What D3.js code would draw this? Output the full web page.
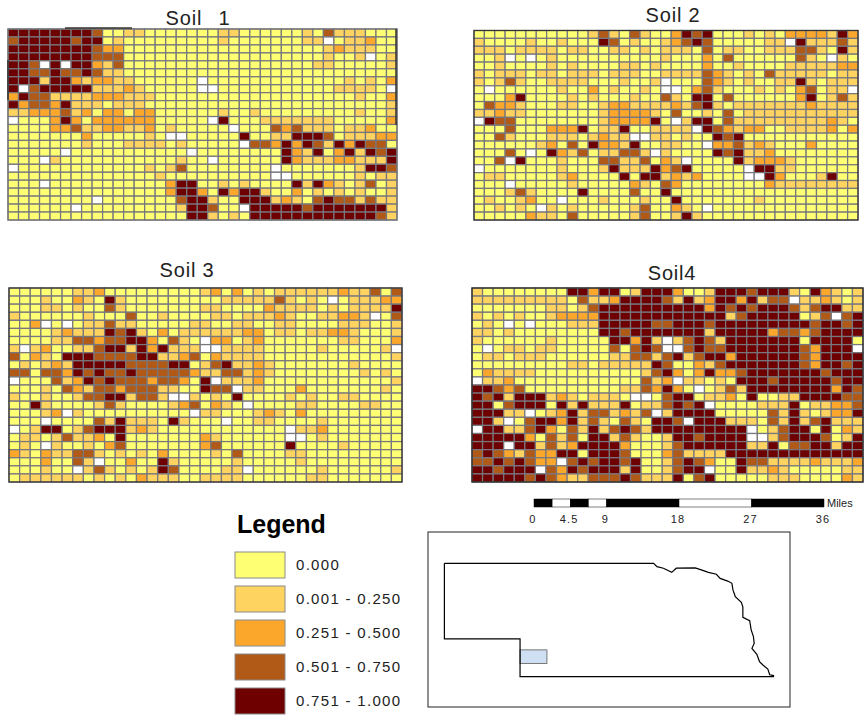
<!DOCTYPE html>
<html>
<head>
<meta charset="utf-8">
<title>Soil maps</title>
<script src="https://cdnjs.cloudflare.com/ajax/libs/d3/7.8.5/d3.min.js"></script>
<style>
  body { margin: 0; background: #fff; }
  text { font-family: "Liberation Sans", Arial, sans-serif; fill: #222; }
</style>
</head>
<body>
<svg id="chart"></svg>
<script>
// Class of each grid cell, one string per row: 0-4 = legend class, x = no data
const soil1 = [
  '4444444430 0110000000 1100000010 3111000',
  '3444443440 1000000000 1000000011 x011200',
  '4444444432 2000000000 0000000000 1211100',
  '4444444433 3000000000 0000000000 1001x01',
  '443x4x4421 3000000000 0000000001 1000001',
  '4433433431 1000000000 0000000000 0000000',
  '4441442122 11000000x0 0000000000 0010102',
  '4x34444411 12100000xx 0000000000 011110x',
  '2433111122 2111000000 0000000000 0001002',
  '4233241110 1110000000 0000000000 0000001',
  '1122231202 2022000000 1001000000 0001001',
  'x000242022 222200000x 4000111111 1000002',
  '0000223112 2112010000 0x00032311 1011200',
  '0000000200 00010xx000 0040011444 3011122',
  '0000000100 0111101000 00x3324243 1424330',
  '00000x0000 0000000x00 0000004214 0241434',
  '000x100000 000000100x 0000004211 1221114',
  'x000000000 0001013000 00000x0000 0001443',
  '0000000000 0000100000 00000xx000 0001011',
  '000x000000 0000024400 1010000414 2101301',
  '0000000000 0000024420 4244100201 0101001',
  '00000000x0 0000003441 0044412103 4331311',
  '000000x000 0000001443 00x4444434 4444441',
  '0000000000 0000000441 0104444444 4444431'
];

const soil2 = [
  '0000000000 0131031002 4340001010 2222142',
  '1000010010 0043010012 3430000011 x411131',
  '1110111101 1001101011 1030110011 1331041',
  '001x0x0100 0000000010 0020300000 0310x10',
  '0010000101 0000110100 0020010000 1111122',
  '1011101101 1101110011 1132101031 1111011',
  '1013100111 10001001x0 0032101001 1410111',
  '0x00000010 02010010xx 0231000101 023011x',
  '0002400001 0100010031 0440300000 0240131',
  '0322100011 0012211112 1341011111 1121111',
  '1121100000 0012222103 0010301111 1111111',
  'x433000000 001222240x 1440311111 1111210',
  '0003000222 4011400111 1x43212200 1111202',
  '0031000111 01211xx110 1004340000 0000000',
  '0000001203 0422140011 00x2231210 0020000',
  '00030x0421 3011331x10 0004341120 0000000',
  '003x400010 0033113021 x000041222 1000000',
  'x000000010 0014111423 400000x441 1000000',
  '0110000012 0000404412 120000xx42 0001400',
  '000x000001 0000021032 0000000021 1111111',
  '0001310000 4000030040 0000000000 0000000',
  '01001200x0 0010001004 0000000100 0000000',
  '001010x101 0000013002 10x0000000 0000000',
  '0000021103 0000013001 4100000000 0000000'
];

const soil3 = [
  '0000001120 0000000012 0201011111 1211303',
  '0001002104 1000000000 1111131010 x011122',
  '0001101003 1000000011 0000211110 1011114',
  '1000000100 0300100001 1011121001 1221x03',
  '002x0x0113 1100000110 0110011000 0111001',
  '0000121114 3410201111 1122011011 2210001',
  '0000113323 34420310x2 2012000000 0110002',
  '1x12001134 41424111xx 1111000001 000001x',
  '3021044433 3344112302 1111000000 0000001',
  '0101214444 4333344013 4112100000 0010000',
  '3303324343 3433333211 3312100000 0001010',
  'x000312434 333233204x 1112000000 0000001',
  '0001032133 2333110043 3x11000200 0000010',
  '1001001334 41331xx101 0400001010 0110000',
  '0041000013 1000012302 10x0000110 0001100',
  '00012x1000 0000000x11 0001210200 0000000',
  '000x000031 4111041000 x001100001 0000000',
  'x014401344 4121000000 000000x112 0000000',
  '0110131120 4000000021 000000xx01 0000000',
  '010x100102 3000000023 0000004000 0100000',
  '2102113310 1010200001 0300001100 0000000',
  '00020031x0 0200410000 0100000100 0000000',
  '000100x131 0101430000 11x0000001 0000001',
  '0111111010 1021110011 1100000011 0000000'
];

const soil4 = [
  '1000000004 4244014442 0014443444 1042101',
  '1111111110 3112444431 4124424133 x112101',
  '0000000110 1344444444 4424343444 3134411',
  '1010100122 2244444444 4444134444 4013x34',
  '010x0x0001 1144444334 4434444444 4434434',
  '1101000000 0044344444 4414444423 3234444',
  '1000000100 00044241x1 3431444444 4044440',
  '0x01101100 00030343xx 3433444444 432444x',
  '0110111000 0001133134 1344244444 4324444',
  '0000000001 1011111430 0213444444 4324434',
  '0211110000 0000001342 0242234444 4443444',
  'x112000000 000000312x 1101044434 4444344',
  '4432300000 0000113242 0x01314444 4444243',
  '4341444121 01110xx034 4011204001 1444433',
  '4403444041 4111401134 34x0000111 4011223',
  '44411x0124 1331213x14 4440000031 4101224',
  '441x034424 1310310443 x444111031 4134111',
  'x441134203 1413431444 444444x013 4404021',
  '4444420313 0441310014 434444xx13 4443014',
  '444x441312 4444200013 4444441140 3344144',
  '3432132244 0444300023 1111444444 4444444',
  '33434322x3 4344340013 4320043311 1121112',
  '443444x324 3444140013 44x0041121 0000011',
  '4444434321 1333431114 0340000011 1000021'
];

const soilNames = ['Soil 1', 'Soil 2', 'Soil 3', 'Soil4'];
const soilRows = [soil1, soil2, soil3, soil4];

const classLabels = ['0.000', '0.001 - 0.250', '0.251 - 0.500', '0.501 - 0.750', '0.751 - 1.000'];
const classColors = ['#ffff73', '#fed35f', '#fba72c', '#b15a17', '#6e0000'];

// Scale bar stops in miles
const barStops = [0, 2.25, 4.5, 6.75, 9, 18, 27, 36];
const barLabels = [0, 4.5, 9, 18, 27, 36];

// State outline as [lon, lat]
const stateOutline = [
  [-104.05, 43], [-98.52, 43], [-98.43, 42.91], [-98.26, 42.87], [-98.04, 42.76],
  [-97.92, 42.87], [-97.42, 42.88], [-97.24, 42.82], [-97.07, 42.76], [-96.86, 42.71],
  [-96.76, 42.6], [-96.56, 42.53], [-96.45, 42.47], [-96.42, 42.29], [-96.36, 42.12],
  [-96.2, 41.97], [-96.16, 41.85], [-96.16, 41.57], [-95.98, 41.48], [-95.94, 41.24],
  [-95.88, 41.06], [-95.86, 40.88], [-95.92, 40.75], [-95.79, 40.59], [-95.72, 40.4],
  [-95.63, 40.31], [-95.5, 40.2], [-95.45, 40.05], [-95.35, 40.03], [-95.35, 40],
  [-102.05, 40], [-102.05, 41], [-104.05, 41], [-104.05, 43]
];
const studyArea = { lon: [-102.05, -101.34], lat: [40.71, 40.35] };

const width = 865;
const height = 719;

const svg = d3.select('#chart')
  .attr('width', width)
  .attr('height', height)
  .style('display', 'block');

// Where each panel sits on the page
const panels = [
  { left: 8, right: 397, top: 29, bottom: 220, titleX: 198, titleY: 25, wordGap: 10, frame: '#777' },
  { left: 474, right: 858, top: 30.5, bottom: 220, titleX: 673, titleY: 22, wordGap: 0, frame: '#333' },
  { left: 9, right: 402, top: 288, bottom: 482, titleX: 187, titleY: 277, wordGap: 0, frame: '#333' },
  { left: 472, right: 863, top: 288, bottom: 482, titleX: 672, titleY: 280, wordGap: 0, frame: '#222' }
];

// Draw the four grids
soilRows.forEach((rows, i) => {
  const p = panels[i];
  const cells = [];
  rows.forEach((row, r) => {
    row.replace(/ /g, '').split('').forEach((v, c) => cells.push({ r, c, v }));
  });

  const xScale = d3.scaleBand().domain(d3.range(37)).range([p.left, p.right]);
  const yScale = d3.scaleBand().domain(d3.range(rows.length)).range([p.top, p.bottom]);

  const g = svg.append('g').attr('class', 'panel');

  g.selectAll('rect')
    .data(cells)
    .enter()
    .append('rect')
    .attr('x', d => xScale(d.c))
    .attr('y', d => yScale(d.r))
    .attr('width', xScale.bandwidth())
    .attr('height', yScale.bandwidth())
    .attr('fill', d => d.v === 'x' ? '#fff' : classColors[+d.v])
    .attr('stroke', '#77777e')
    .attr('stroke-width', 1.25);

  g.append('rect')
    .attr('x', p.left)
    .attr('y', p.top)
    .attr('width', p.right - p.left)
    .attr('height', p.bottom - p.top)
    .attr('fill', 'none')
    .attr('stroke', p.frame)
    .attr('stroke-width', 1.2);

  svg.append('text')
    .attr('x', p.titleX)
    .attr('y', p.titleY)
    .attr('text-anchor', 'middle')
    .style('font-size', '20px')
    .style('letter-spacing', '0.8px')
    .style('word-spacing', p.wordGap + 'px')
    .text(soilNames[i]);
});

// Heavier bits of the Soil 1 border
const soil1Heavy = [[65, 28, 132, 28], [8, 60, 8, 100], [396, 29, 396, 125]];
svg.selectAll('.heavy')
  .data(soil1Heavy)
  .enter()
  .append('line')
  .attr('class', 'heavy')
  .attr('x1', d => d[0])
  .attr('y1', d => d[1])
  .attr('x2', d => d[2])
  .attr('y2', d => d[3])
  .attr('stroke', '#333')
  .attr('stroke-width', 1.5);

// Legend
svg.append('text')
  .attr('x', 237)
  .attr('y', 533)
  .style('font-size', '25px')
  .style('font-weight', 'bold')
  .style('fill', '#000')
  .text('Legend');

const legendY = d3.scalePoint().domain(d3.range(5)).range([565, 701]);

svg.selectAll('.swatch')
  .data(classColors)
  .enter()
  .append('rect')
  .attr('class', 'swatch')
  .attr('x', 235)
  .attr('y', (d, i) => legendY(i) - 13)
  .attr('width', 50)
  .attr('height', 26)
  .attr('fill', d => d)
  .attr('stroke', '#8a8a8a');

svg.selectAll('.legend-label')
  .data(classLabels)
  .enter()
  .append('text')
  .attr('class', 'legend-label')
  .attr('x', 296)
  .attr('y', (d, i) => legendY(i) + 5)
  .style('font-size', '15px')
  .style('letter-spacing', '1.3px')
  .text(d => d);

// Scale bar
const barScale = d3.scaleLinear().domain([0, 36]).range([534, 824]);

svg.selectAll('.bar-seg')
  .data(d3.pairs(barStops))
  .enter()
  .append('rect')
  .attr('class', 'bar-seg')
  .attr('x', d => barScale(d[0]))
  .attr('y', 499)
  .attr('width', d => barScale(d[1]) - barScale(d[0]))
  .attr('height', 8)
  .attr('fill', (d, i) => i % 2 ? '#fff' : '#000')
  .attr('stroke', '#000')
  .attr('stroke-width', 0.5);

svg.selectAll('.bar-label')
  .data(barLabels)
  .enter()
  .append('text')
  .attr('class', 'bar-label')
  .attr('x', d => barScale(d) - 1)
  .attr('y', 523)
  .attr('text-anchor', 'middle')
  .style('font-size', '11px')
  .style('letter-spacing', '1.2px')
  .text(d => d);

svg.append('text')
  .attr('x', 827)
  .attr('y', 507)
  .style('font-size', '11px')
  .text('Miles');

// Locator map
svg.append('rect')
  .attr('x', 428)
  .attr('y', 532)
  .attr('width', 362)
  .attr('height', 175)
  .attr('fill', '#fff')
  .attr('stroke', '#222')
  .attr('stroke-width', 1);

const lonScale = d3.scaleLinear().domain([-104.05, -95.31]).range([444.4, 775]);
const latScale = d3.scaleLinear().domain([43, 40]).range([563.3, 676.7]);

svg.append('rect')
  .attr('x', lonScale(studyArea.lon[0]))
  .attr('y', latScale(studyArea.lat[0]))
  .attr('width', lonScale(studyArea.lon[1]) - lonScale(studyArea.lon[0]))
  .attr('height', latScale(studyArea.lat[1]) - latScale(studyArea.lat[0]))
  .attr('fill', '#cfe0f5')
  .attr('stroke', '#777');

svg.append('path')
  .datum(stateOutline)
  .attr('d', d3.line().x(d => lonScale(d[0])).y(d => latScale(d[1])))
  .attr('fill', 'none')
  .attr('stroke', '#000')
  .attr('stroke-width', 1.2);
</script>
</body>
</html>
